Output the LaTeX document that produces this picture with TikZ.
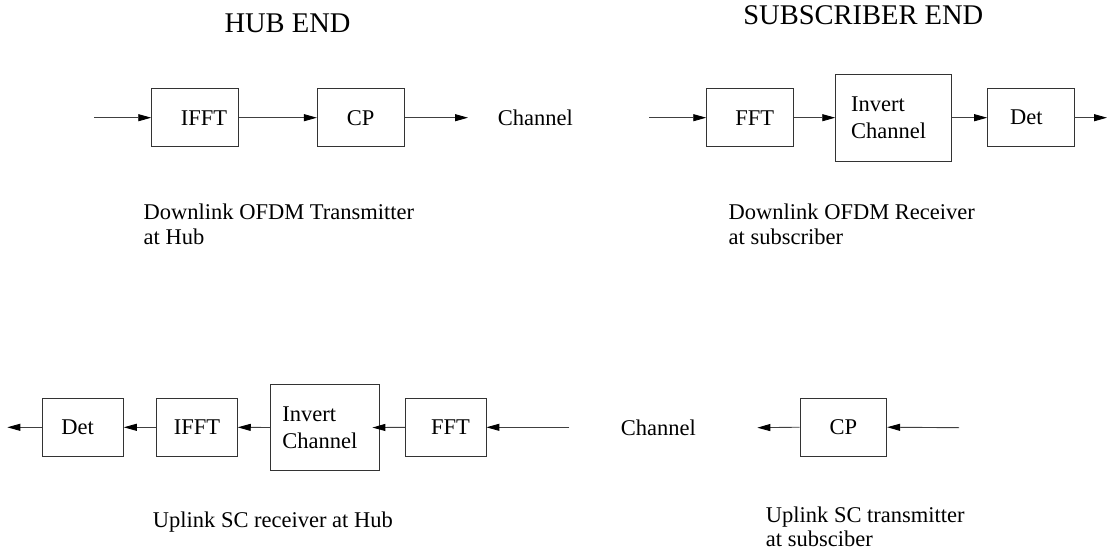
\documentclass[tikz,border=0pt]{standalone}
\usepackage{fontspec}
\setmainfont{Liberation Serif}
\usetikzlibrary{arrows.meta}
\begin{document}
\begin{tikzpicture}[x=1pt,y=-1pt,
  blk/.style={draw=black!80, line width=0.9pt, inner sep=0pt, font=\fontsize{22.5}{26.5}\selectfont},
  sz/.style 2 args={minimum width=#1pt, minimum height=#2pt},
  tr/.style={execute at begin node={\hspace*{#1pt}}},
  tl/.style={execute at end node={\hspace*{#1pt}}},
  conn/.style={draw=black!75, line width=0.9pt, -{Triangle[length=13pt,width=7pt,color=black]}},
  lbl/.style={inner sep=0pt, anchor=base west, font=\fontsize{22.5}{24.7}\selectfont},
  ttl/.style={inner sep=0pt, anchor=base, font=\fontsize{28.5}{32}\selectfont}]
\useasboundingbox (0,0) rectangle (1109,557);
% titles
\node[ttl] (hubend) at (287.5,32.3) {HUB END};
\node[ttl] (subend) at (863.3,24.3) {SUBSCRIBER END};
% top left chain
\coordinate (tlin) at (94,117.7);
\node[blk, sz={86.6}{57.7}, tr=18] (ifft1) at (195,117.7) {IFFT};
\node[blk, sz={86.7}{57.7}] (cp1) at (360.7,117.7) {CP};
\coordinate (tlout) at (468,117.7);
\node[lbl] (ch1) at (497.7,125.7) {Channel};
\draw[conn] (tlin) -- (ifft1.west);
\draw[conn] (ifft1.east) -- (cp1.west);
\draw[conn] (cp1.east) -- (tlout);
\node[lbl, align=left] (cap1) at (143.5,244.5) {Downlink OFDM Transmitter\\at Hub};
% top right chain
\coordinate (trin) at (649,117.7);
\node[blk, sz={86.6}{57.7}, tr=9.5] (fft1) at (750,117.7) {FFT};
\node[blk, sz={116}{86.7}, align=left, tl=10] (inv1) at (893.7,117.7) {Invert\\Channel};
\node[blk, sz={86.3}{57.7}, tl=9] (det1) at (1030.8,117.7) {Det};
\coordinate (trout) at (1107,117.7);
\draw[conn] (trin) -- (fft1.west);
\draw[conn] (fft1.east) -- (inv1.west);
\draw[conn] (inv1.east) -- (det1.west);
\draw[conn] (det1.east) -- (trout);
\node[lbl, align=left] (cap2) at (728.5,244.5) {Downlink OFDM Receiver\\at subscriber};
% bottom left chain
\coordinate (blin) at (569.3,427.3);
\node[blk, sz={80.3}{57.3}, tr=9.5] (fft2) at (445.8,427.3) {FFT};
\node[blk, sz={108.3}{86.4}, align=left, tl=10] (inv2) at (324.8,427.5) {Invert\\Channel};
\node[blk, sz={80.6}{57.3}] (ifft2) at (197,427.3) {IFFT};
\node[blk, sz={81.3}{57.3}, tl=10] (det2) at (82.7,427.3) {Det};
\coordinate (blout) at (7.3,427.3);
\draw[conn] (blin) -- (fft2.east);
\draw[conn, shorten >=-7pt] (fft2.west) -- (inv2.east);
\draw[conn] (inv2.west) -- (ifft2.east);
\draw[conn] (ifft2.west) -- (det2.east);
\draw[conn] (det2.west) -- (blout);
\node[lbl] (cap3) at (152.7,527) {Uplink SC receiver at Hub};
% bottom right chain
\node[lbl] (ch2) at (620.7,435) {Channel};
\coordinate (brin) at (959,427.7);
\node[blk, sz={86.7}{57.7}] (cp2) at (843.3,427.2) {CP};
\coordinate (brout) at (757.3,427.7);
\draw[conn] (brin) -- (cp2.east);
\draw[conn] (cp2.west) -- (brout);
\node[lbl, align=left] (cap4) at (765.7,546.7) {Uplink SC transmitter\\at subsciber};
\end{tikzpicture}
\end{document}
